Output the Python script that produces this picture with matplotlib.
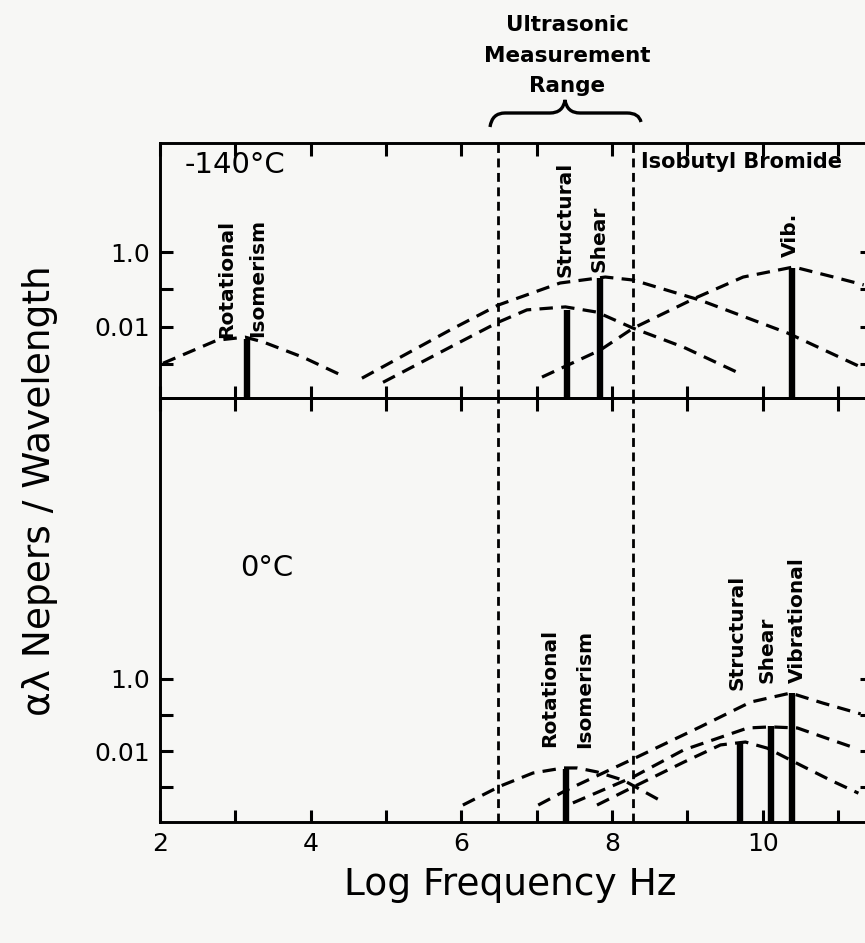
import numpy as np
import matplotlib
matplotlib.use("Agg")
import matplotlib.pyplot as plt
from matplotlib.path import Path
from matplotlib.patches import PathPatch

# values: x = log10(frequency Hz), y = log10(alpha*lambda)
# ---- top panel (-140 C) ----
top_rot_x = [2.04, 2.76, 3.13, 3.37, 3.90, 4.46]
top_rot_y = [-2.98, -2.36, -2.28, -2.41, -2.82, -3.35]
top_shear_x = [4.68, 5.85, 6.49, 7.31, 7.91, 8.28, 9.17, 10.33, 11.30]
top_shear_y = [-3.38, -2.09, -1.42, -0.83, -0.67, -0.75, -1.29, -2.17, -3.08]
top_struct_x = [4.96, 5.85, 6.49, 6.87, 7.38, 7.80, 8.28, 8.95, 9.66]
top_struct_y = [-3.49, -2.55, -1.88, -1.55, -1.47, -1.61, -2.04, -2.55, -3.22]
top_vib_x = [7.07, 7.84, 8.28, 9.13, 9.74, 10.41, 10.94, 11.34]
top_vib_y = [-3.35, -2.63, -2.04, -1.21, -0.67, -0.40, -0.67, -0.88]

top_bar_x = [3.15, 7.40, 7.84, 10.39]
top_bar_y = [-2.33, -1.55, -0.70, -0.43]

# ---- bottom panel (0 C) ----
bot_rot_x = [6.02, 6.52, 6.95, 7.35, 7.54, 7.80, 8.15, 8.68]
bot_rot_y = [-3.50, -2.97, -2.61, -2.47, -2.47, -2.58, -2.81, -3.42]
bot_vib_x = [7.02, 7.40, 8.33, 9.17, 9.84, 10.37, 10.80, 11.30]
bot_vib_y = [-3.50, -3.08, -2.17, -1.33, -0.64, -0.39, -0.67, -0.97]
bot_shear_x = [7.48, 8.28, 8.95, 9.80, 10.10, 10.46, 10.80, 11.23]
bot_shear_y = [-3.44, -2.72, -1.97, -1.36, -1.33, -1.36, -1.61, -1.92]
bot_struct_x = [7.80, 8.28, 8.95, 9.44, 9.77, 10.06, 10.50, 10.90, 11.27]
bot_struct_y = [-3.50, -3.00, -2.31, -1.83, -1.75, -1.92, -2.39, -2.81, -3.17]

bot_bar_x = [7.39, 9.70, 10.11, 10.39]
bot_bar_y = [-2.50, -1.75, -1.31, -0.39]

# ultrasonic range edges
range_x = [6.49, 8.28]

x_ticks = list(range(2, 12))
x_labels = ['2', '', '4', '', '6', '', '8', '', '10', '']
y_ticks = [0, -1, -2, -3]
y_labels = ['1.0', '', '0.01', '']

W, H = 865, 943
fig = plt.figure(figsize=(W / 100, H / 100), dpi=100)
fig.patch.set_facecolor('#f7f7f5')


def fx(px):
    return px / W


def fy(py):
    return 1 - py / H


left = fx(160)
width = fx(872) - left
ax_top = fig.add_axes([left, fy(398), width, fy(143) - fy(398)])
ax_bot = fig.add_axes([left, fy(822), width, fy(398) - fy(822)])

dash = (0, (4.2, 2.6))
vdash = (0, (3.2, 2.0))

for ax in (ax_top, ax_bot):
    ax.set_facecolor('none')
    ax.set_xlim(2, 11.45)
    ax.set_xticks(x_ticks)
    ax.set_yticks(y_ticks)
    ax.set_yticklabels(y_labels)
    ax.tick_params(direction='in', length=9, width=2.2, top=True, right=True,
                   labelsize=18, pad=7)
    for s in ax.spines.values():
        s.set_linewidth(2.1)
    for xv in range_x:
        ax.axvline(xv, color='black', lw=2.0, ls=vdash)

ax_top.set_ylim(-3.91, 2.92)
ax_bot.set_ylim(-3.97, 7.8)
ax_top.tick_params(labelbottom=False)
ax_bot.set_xticklabels(x_labels)

# dashed relaxation curves
for xs, ys in [(top_rot_x, top_rot_y), (top_shear_x, top_shear_y),
               (top_struct_x, top_struct_y), (top_vib_x, top_vib_y)]:
    ax_top.plot(xs, ys, color='black', lw=2.3, ls=dash)
for xs, ys in [(bot_rot_x, bot_rot_y), (bot_vib_x, bot_vib_y),
               (bot_shear_x, bot_shear_y), (bot_struct_x, bot_struct_y)]:
    ax_bot.plot(xs, ys, color='black', lw=2.3, ls=dash)

# spikes
ax_top.vlines(top_bar_x, ax_top.get_ylim()[0], top_bar_y, color='black', lw=4.6)
ax_bot.vlines(bot_bar_x, ax_bot.get_ylim()[0], bot_bar_y, color='black', lw=4.6)

bold = dict(fontweight='bold', fontsize=14.5, rotation=90, ha='center', va='bottom')
ax_top.text(2.88, -2.31, 'Rotational', **bold)
ax_top.text(3.30, -2.28, 'Isomerism', **bold)
ax_top.text(7.37, -0.67, 'Structural', **bold)
ax_top.text(7.83, -0.54, 'Shear', **bold)
ax_top.text(10.37, -0.13, 'Vib.', **bold)
ax_bot.text(7.17, -1.89, 'Rotational', **bold)
ax_bot.text(7.63, -1.92, 'Isomerism', **bold)
ax_bot.text(9.66, -0.31, 'Structural', **bold)
ax_bot.text(10.06, -0.11, 'Shear', **bold)
ax_bot.text(10.46, -0.11, 'Vibrational', **bold)

ax_top.text(2.33, 2.33, '-140°C', fontsize=21, va='center', ha='left')
ax_bot.text(3.06, 3.08, '0°C', fontsize=21, va='center', ha='left')
ax_top.text(8.39, 2.41, 'Isobutyl Bromide', fontsize=15, fontweight='bold',
            va='center', ha='left')

# measurement range label and brace
for txt, py in [('Ultrasonic', 25), ('Measurement', 56), ('Range', 86)]:
    fig.text(fx(567), fy(py), txt, fontsize=15.5, fontweight='bold',
             ha='center', va='center')

brace = [(490, 127), (492, 113), (505, 113), (550, 113), (563, 113), (565, 100),
         (567, 113), (580, 113), (627, 113), (639, 113), (641, 122)]
codes = [Path.MOVETO, Path.CURVE3, Path.CURVE3, Path.LINETO, Path.CURVE3, Path.CURVE3,
         Path.CURVE3, Path.CURVE3, Path.LINETO, Path.CURVE3, Path.CURVE3]
verts = [(fx(a), fy(b)) for a, b in brace]
fig.patches.append(PathPatch(Path(verts, codes), transform=fig.transFigure,
                             fill=False, lw=2.4, edgecolor='black'))

fig.text(fx(40), fy(491), 'αλ Nepers / Wavelength', fontsize=27, rotation=90,
         ha='center', va='center')
fig.text(fx(510), fy(885), 'Log Frequency Hz', fontsize=27, ha='center', va='center')

fig.savefig('out.png', dpi=100, facecolor=fig.get_facecolor())
